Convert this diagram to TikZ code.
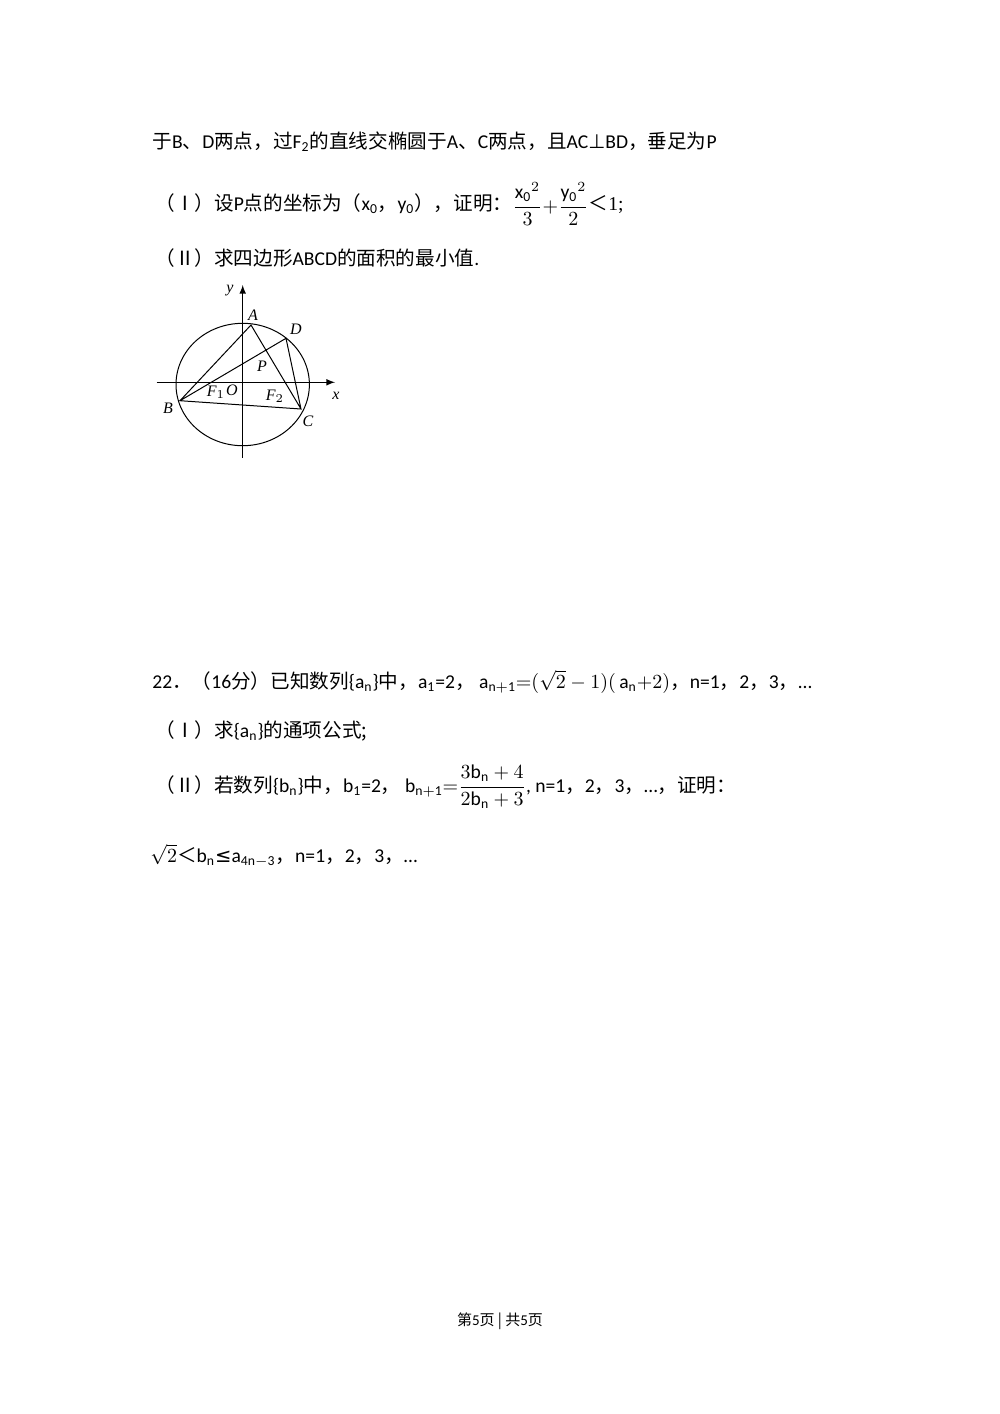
\documentclass[tikz,border=0pt]{standalone}
\usepackage{fontspec}
\setmainfont{Carlito}
\newfontfamily\cjk{Noto Sans CJK SC}
\newfontfamily\tms{Liberation Serif}
\newfontfamily\djv{DejaVu Sans}
\begin{document}
\begin{tikzpicture}[x=0.5pt,y=-0.5pt,
  txt/.style={anchor=base west,inner sep=0pt,font=\fontsize{9.8}{11}\selectfont},
  lab/.style={inner sep=0pt,font=\fontsize{8}{9}\selectfont\tms\itshape},
  ln/.style={line width=0.5pt}]
\useasboundingbox[fill=white] (0,0) rectangle (1000,1414);
\node[txt] (t1) at (152,148) {{\cjk 于}B{\cjk 、}D{\cjk 两点，过}F\textsubscript{2}{\cjk 的直线交椭圆于}A{\cjk 、}C{\cjk 两点，且}AC{\djv ⊥}BD{\cjk ，垂足为}P};
\node[txt] (t2) at (155,210) {{\cjk （Ⅰ）设}P{\cjk 点的坐标为（}x\textsubscript{0}{\cjk ，}y\textsubscript{0}{\cjk ），证明：}\raisebox{-1pt}{$\displaystyle\frac{\mathrm{x_0}^2}{3}{+}\frac{\mathrm{y_0}^2}{2}$}{\cjk ＜}{\tms 1;}};
\node[txt] (t3) at (155,265) {{\cjk （Ⅱ）求四边形}ABCD{\cjk 的面积的最小值}.};
% figure
\coordinate (O) at (242.7,382.3);
\coordinate (A) at (251,325);
\coordinate (D) at (286,338.3);
\coordinate (B) at (180,400.7);
\coordinate (C) at (301,409);
\draw[ln] (242.7,384.5) ellipse [x radius=66.7,y radius=61.2];
\draw[ln,-latex] (156.7,382.3) -- (335,382.3);
\draw[ln,-latex] (242.7,457.7) -- (242.7,285);
\draw[ln] (B) -- (A) -- (C) -- (B) -- (D) -- (C);
\node[lab] (lA) at (253,315) {A};
\node[lab] (lD) at (296,329) {D};
\node[lab] (lP) at (262,366) {P};
\node[lab] (lB) at (168,408) {B};
\node[lab] (lC) at (308,421) {C};
\node[lab] (lF1) at (216,392) {F$_1$};
\node[lab] (lO) at (232,390) {O};
\node[lab] (lF2) at (275,396) {F$_2$};
\node[lab] (lx) at (336,396) {x};
\node[lab] (ly) at (230,291) {y};
% problem 22
\node[txt] (t4) at (152,688) {22{\cjk ．（}16{\cjk 分）已知数列}\{a\textsubscript{n}\}{\cjk 中，}a\textsubscript{1}=2{\cjk ，} $\mathrm{a_{n+1}}{=}(\sqrt{2}-1)(\,\mathrm{a_n}{+}2)${\cjk ，}n=1{\cjk ，}2{\cjk ，}3{\cjk ，}…};
\node[txt] (t5) at (155,737) {{\cjk （Ⅰ）求}\{a\textsubscript{n}\}{\cjk 的通项公式;}};
\node[txt] (t6) at (155,792) {{\cjk （Ⅱ）若数列}\{b\textsubscript{n}\}{\cjk 中，}b\textsubscript{1}=2{\cjk ，} $\mathrm{b_{n+1}}{=}\displaystyle\frac{3\mathrm{b_n}+4}{2\mathrm{b_n}+3}$, n=1{\cjk ，}2{\cjk ，}3{\cjk ，}…{\cjk ，证明：}};
\node[txt] (t7) at (150,862) {$\sqrt{2}${\cjk ＜}$\mathrm{b_n}${\djv ≤}$\mathrm{a_{4n-3}}${\cjk ，}n=1{\cjk ，}2{\cjk ，}3{\cjk ，}…};
\node[inner sep=0pt,font=\fontsize{7.5}{9}\selectfont] (ft) at (500,1321) {{\cjk 第}5{\cjk 页 | 共}5{\cjk 页}};
\end{tikzpicture}
\end{document}
